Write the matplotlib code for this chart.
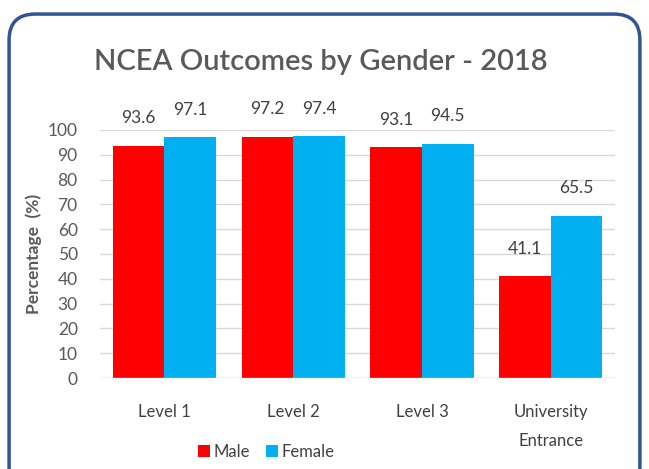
import matplotlib
matplotlib.use("Agg")
import matplotlib.pyplot as plt
import numpy as np
from matplotlib.patches import FancyBboxPatch

plt.rcParams['font.family'] = ['Lato', 'DejaVu Sans']

categories = ["Level 1", "Level 2", "Level 3", "University\nEntrance"]
male = [93.6, 97.2, 93.1, 41.1]
female = [97.1, 97.4, 94.5, 65.5]
yticks = list(range(0, 101, 10))

RED = "#FF0000"
BLUE = "#00B0F0"
GREY = "#595959"

fig = plt.figure(figsize=(6.49, 4.69), dpi=100)
fig.patch.set_facecolor("white")

# rounded outer frame, kept behind the axes
frame = FancyBboxPatch((0.014, -0.05), 0.972, 1.02, transform=fig.transFigure,
                       boxstyle="round,pad=0,rounding_size=0.04",
                       fc="white", ec="#2F5597", lw=2.5, mutation_aspect=649 / 469,
                       zorder=-5)
fig.patches.append(frame)

ax = fig.add_axes([0.154, 0.194, 0.794, 0.529])
ax.set_facecolor("none")
x = np.arange(len(categories))
w = 0.40
bm = ax.bar(x - w / 2, male, w, color=RED, label="Male", zorder=3)
bf = ax.bar(x + w / 2, female, w, color=BLUE, label="Female", zorder=3)

for bars, vals in ((bm, male), (bf, female)):
    for b, v in zip(bars, vals):
        ax.annotate(f"{v:.1f}", (b.get_x() + b.get_width() / 2, v),
                    xytext=(0, 14), textcoords="offset points",
                    ha="center", va="bottom", fontsize=12.5, color="#404040")

ax.set_xlim(-0.5, len(categories) - 0.5)
ax.set_ylim(0, 100)
ax.set_yticks(yticks)
ax.set_xticks(x)
ax.set_xticklabels(categories, fontsize=12, color="#404040", linespacing=2.0, va="top")
ax.tick_params(axis="y", labelsize=12.5, colors=GREY, length=0, pad=16)
ax.tick_params(axis="x", length=0, pad=19)
ax.grid(axis="y", color="#D9D9D9", lw=1, zorder=0)
for s in ax.spines.values():
    s.set_visible(False)
ax.axhline(0, color="#D9D9D9", lw=1, zorder=4)

ax.set_ylabel("Percentage  (%)", fontsize=12.5, fontweight="bold", color=GREY, labelpad=4)

fig.text(0.494, 0.868, "NCEA Outcomes by Gender - 2018", ha="center", va="center",
         fontsize=21, fontweight="semibold", color=GREY)

fig.legend(handles=[bm, bf], loc="center", bbox_to_anchor=(0.41, 0.036), ncol=2,
           frameon=False, fontsize=12, handlelength=0.7, handleheight=0.7,
           handletextpad=0.2, columnspacing=1.0, labelcolor="#404040")

fig.savefig("out.png", dpi=100)
